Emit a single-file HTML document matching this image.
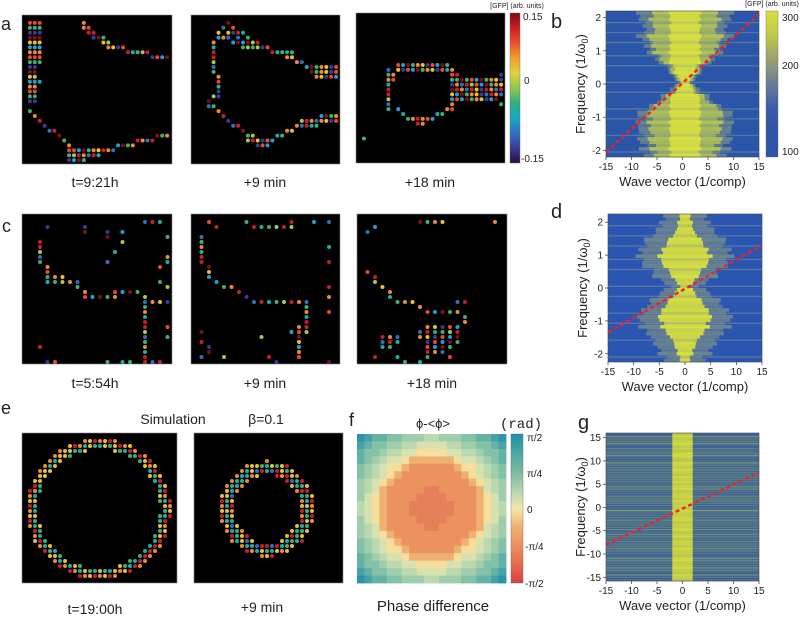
<!DOCTYPE html>
<html><head><meta charset="utf-8"><style>
html,body{margin:0;padding:0;background:#fff;}
svg{display:block;font-family:"Liberation Sans",sans-serif;}
</style></head><body>
<svg id="fig" width="800" height="618" viewBox="0 0 800 618" xmlns="http://www.w3.org/2000/svg"></svg>
<script>
// ---------- data ----------
const bCore=[3,3,3,3,3,3,3,3,3,3,3,3,3,3,3,3,2.5,2,2,1.5,1,0.8,1,1.5,2,2.5,3,3,3,3,3,3,3,3,3,3,3,3,3,3,3,3,3,3];
const bMid=[6,6.5,7,7,6,6,6.5,7,7,7,6.5,6,6,5,5,4,3,3,2.5,2,1.5,1,1.5,2,2.5,3.5,4,5,6,7,7,7.5,7,7,7,7,7,6.5,7,7,6,6.5,6,6];
const bOuter=[9,9.5,9,9,8,8,9,9,8.5,8,8,7.5,7,6,6,5,4,3.5,3,2.5,2,1.5,2,3,3.5,4.5,5,6,7,8,9,9.5,9,9,10,9,9.5,9,9,9,8,8.5,8,8];
const dCore=[1,1,1.5,1.5,1.5,2,2.5,3,3.5,4,4.5,4.5,5,5,4.5,4,3.5,3,2.5,2,1.5,1,1.5,2,2.5,3,3.5,4,4.5,5,5,5,4.5,4.5,4,3.5,3,2.5,2,2,1.5,1.5,1,1];
const dOuter=[4,4,5,5,5.5,6,7,7.5,8,8.5,9,9,9,9,8.5,8,7,6.5,6,5,4,3,4,5,6,6.5,7,8,8.5,9,9,9,9,8.5,8,7.5,7,6.5,6,5.5,5,5,4,4];
const rowTex=[0.9,0.4,0.7,0.2,0.8,0.5,0.3,0.9,0.6,0.2,0.7,0.4,0.9,0.3,0.6,0.8,0.2,0.5,0.9,0.4,0.7,0.3,0.8,0.6,0.2,0.9,0.5,0.4,0.7,0.3,0.8,0.6,0.2,0.9,0.4,0.7,0.5,0.3,0.8,0.6,0.4,0.9,0.2,0.7];
const gStreak=[0.3,0.8,0.2,0.6,0.9,0.3,0.5,0.1,0.7,0.9,0.4,0.2,0.8,0.6,0.3,0.9,0.5,0.2,0.7,0.4,0.8,0.3,0.6,0.9,0.2,0.5,0.7,0.3,0.8,0.4,0.6,0.2,0.9,0.5,0.3,0.7,0.8,0.2,0.6,0.4,0.9,0.3,0.5,0.7,0.2,0.8,0.6,0.3,0.9,0.4,0.5,0.2,0.7,0.8,0.3,0.6,0.9,0.4,0.2,0.7,0.5,0.3];
const kTicks=[-15,-10,-5,0,5,10,15];
const bFTicks=[2,1,0,-1,-2];
const gFTicks=[15,10,5,0,-5,-10,-15];
const bLine=[[-15,-2.05],[15,2.1]];
const dLine=[[-15,-1.35],[15,1.3]];
const gLine=[[-15,-8],[15,7.5]];
const a1Lines=[[[1,1],[1,17]],[[2,1],[2,17]],[[3,1],[3,9]],[[1,19],[9,26],[9,29]],[[10,27],[15,27]],[[10,28],[15,28]],[[9,29],[12,29]],[[16,27],[29,24]],[[12,1],[18,6],[23,7],[29,8]],[[12,2],[17,6]]];
const a1Pts=[[3,13]];
const a2Lines=[[[7,1],[4.6,4],[4,9],[5,15],[3,17],[6,20],[11,24],[15,25],[22,22],[29,21]],[[11,25],[15,26]],[[22,21],[29,20]],[[7,1],[12,5],[20,8],[24,10],[29,10]],[[6,2],[12,6],[20,7]],[[5,3],[11,6]],[[24,11],[29,11]],[[25,12],[29,12]]];
const a2Pts=[[3,18],[5,16]];
const a3Lines=[[[8,10],[18,10]],[[8,11],[18,11]],[[6,11],[6,19]],[[7,12],[7,13]],[[8,19],[12,22],[15,21],[18,19]],[[11,21],[15,21]],[[19,11],[19,19]],[[20,12],[29,18]],[[20,13],[29,13]],[[20,14],[29,14]],[[20,15],[29,15]],[[20,16],[29,16]],[[20,17],[28,17]]];
const a3Pts=[[1,25],[29,12]];
const c1Lines=[[[2,5],[2.5,9.5],[3,11.5],[6,12.5],[8,16],[11.5,15.5],[15,15],[16,17],[15.5,28.5]],[[3,12.5],[6,13]],[[17,17],[19,17]]];
const c1Pts=[[3,2],[8,2],[8,3],[11,3],[11,4],[13,3],[13,5],[12,7],[11,9],[16,1],[17,1],[18,1],[19,4],[19,8],[19,9],[18,10],[18,13],[19,14],[19,17],[19,22],[19,24],[2,26],[3,29],[4,29],[11,29],[13,29],[14,29],[17,29],[18,29],[16,27]];
const c2Lines=[[[1,4],[1.5,9.5],[2.5,13],[4,13.5],[6.6,16],[8.4,17],[15,17],[15,21],[13.6,28]],[[8,2],[12,2]],[[14,22],[14,28]]];
const c2Pts=[[7,1],[13,1],[13,2],[16,1],[18,1],[2,1],[3,2],[18,6],[18,9],[18,14],[18,16],[18,19],[1,23],[1,25],[2,26],[2,27],[1,28],[4,28],[9,24],[10,28],[11,29],[18,29],[13,23]];
const c3Lines=[[[1,11],[3.6,14.5],[5.3,16.5],[7.4,17],[9,18.5],[12.5,18.5]],[[12.5,17],[14,17]],[[8,1],[11,1]],[[1,3],[2,2]],[[9,22],[13,22]],[[8,23],[13,23]],[[8,24],[13,24]],[[9,25],[13,25]],[[9,26],[12,26]],[[9,27],[11,27]],[[3,24],[5,24]],[[3,25],[5,25]],[[3,26],[4,26]]];
const c3Pts=[[18,1],[14,20],[14,21],[2,28],[5,28],[6,29],[8,29],[9,28],[12,28]];
const dotPalette=['#7a1018','#c8202a','#e84a2a','#f08a30','#e8c030','#a8c848','#40b070','#18b0a8','#20a0d8','#3070c0','#3a3a98','#c8202a','#f08a30','#40b070'];
const fThresh=[0.28,0.62,0.7,0.78,0.87,0.96,1.05,1.14,1.23,1.32,1.5];
const fLevels=['#e6805a','#eb925f','#f0b070','#f6df9c','#d8e2b0','#bcd8ae','#a0ceac','#84c2a8','#64b2a6','#46a2a8','#2c94a8','#2592a8'];

// ---------- helpers ----------
const NS='http://www.w3.org/2000/svg';
const svg=document.getElementById('fig');
function mk(tag,attrs,parent){const e=document.createElementNS(NS,tag);for(const k in attrs)e.setAttribute(k,attrs[k]);(parent||svg).appendChild(e);return e;}
function txt(s,x,y,size,anchor,parent,extra){const t=mk('text',Object.assign({x:x,y:y,'font-size':size,'text-anchor':anchor||'start',fill:'#222'},extra||{}),parent);t.textContent=s;return t;}

function dotImage(name,x,y,w,h,cw,ch,lines,pts){
  const g=mk('g',{});
  
  
  const bg=mk('rect',{x:x,y:y,width:w,height:h,fill:'#000',stroke:'#888','stroke-width':0.6},g);
  
  
  const seen=new Set();const cells=[];
  lines.forEach(l=>{for(let s=0;s<l.length-1;s++){const [c1,r1]=l[s],[c2,r2]=l[s+1];const n=Math.max(1,Math.round(Math.max(Math.abs(c2-c1),Math.abs(r2-r1))));for(let i=0;i<=n;i++){const c=Math.round(c1+(c2-c1)*i/n),r=Math.round(r1+(r2-r1)*i/n);const k=c+','+r;if(!seen.has(k)){seen.add(k);cells.push([c,r]);}}}});
  pts.forEach(p=>{const k=p[0]+','+p[1];if(!seen.has(k)){seen.add(k);cells.push(p);}});
  cells.forEach((p,i)=>{const col=dotPalette[(p[0]*37+p[1]*91+i*53)%dotPalette.length];
    const d=mk('circle',{cx:x+3+p[0]*cw,cy:y+3+p[1]*ch,r:2,fill:col},g);
    
    });
}

function ringImage(name,x,y,w,h,cx,cy,rx,ry,layers,cw,ch){
  const g=mk('g',{});
  
  
  mk('rect',{x:x,y:y,width:w,height:h,fill:'#000',stroke:'#888','stroke-width':0.6},g);
  const ringCols=['#c8202a','#f08a30','#e8c030','#40b070','#18b0a8','#3070c0'];
  for(let c=0;c*cw<w-4;c++)for(let r=0;r*ch<h-4;r++){
    const px=x+3+c*cw,py=y+3+r*ch;const dd=Math.sqrt(((px-cx)/rx)**2+((py-cy)/ry)**2);
    for(let L=0;L<layers;L++){const lo=1-(L+1)*0.075,hi=1-L*0.075;
      if(dd>lo&&dd<=hi){const col=ringCols[(L*2+((c+r)%3))%ringCols.length];
        const d=mk('circle',{cx:px,cy:py,r:2,fill:col},g);
        
        }}
  }
}

function spectro(name,x0,y0,w,h,fmin,fmax,fTicks,core,mid,outer,streak,line,center,bg){
  const g=mk('g',{});
  
  
  const X=k=>x0+(k+15)/30*w, Y=f=>y0+(fmax-f)/(fmax-fmin)*h;
  mk('rect',{x:x0,y:y0,width:w,height:h,fill:bg},g);
  const n=(core||streak).length, rh=h/n;
  for(let i=0;i<n;i++){
    const yy=y0+i*rh;
    if(streak){const s=streak[i];
      const gr=mk('rect',{x:x0,y:yy,width:w,height:rh+0.2,fill:'#5a8a80',opacity:0.25+0.35*((i*7)%5)/4},g);
      
      
      const st=mk('rect',{x:x0,y:yy+rh*0.25,width:w,height:rh*0.5,fill:'#c8d040',opacity:s*0.5},g);
      
      
      const c=mk('rect',{x:X(-2),y:yy,width:X(2)-X(-2),height:rh+0.3,fill:'#d4dc40',opacity:0.8+0.2*s},g);
      
      
    } else {
      const t=rowTex[i%rowTex.length];
      const ow=outer[i]*(0.8+0.3*t);
      const o=mk('rect',{x:X(center-ow),y:yy,width:X(ow)-X(-ow),height:rh+0.3,fill:'#8a9a80',opacity:0.35+0.35*t},g);
      
      
      if(mid){const mw=mid[i]*(0.85+0.25*t);const m=mk('rect',{x:X(center-mw),y:yy,width:X(mw)-X(-mw),height:rh+0.3,fill:'#b8c850',opacity:0.5+0.45*t},g);
        
        }
      const cw=core[i]*(0.85+0.25*t);
      const c=mk('rect',{x:X(center-cw),y:yy,width:X(cw)-X(-cw),height:rh+0.3,fill:'#d8e040',opacity:0.8+0.2*t},g);
      
      
      if(t<0.35){const s=mk('rect',{x:x0,y:yy+rh*0.3,width:w,height:rh*0.4,fill:'#9aa890',opacity:0.4},g);
        
        }
    }
  }
  const ln=mk('line',{x1:X(line[0][0]),y1:Y(line[0][1]),x2:X(line[1][0]),y2:Y(line[1][1]),stroke:'#ee2222','stroke-width':2.4,'stroke-dasharray':'4,3'},g);
  
  
  mk('rect',{x:x0,y:y0,width:w,height:h,fill:'none',stroke:'#444','stroke-width':0.6},g);
  kTicks.forEach(k=>{mk('line',{x1:X(k),y1:y0+h,x2:X(k),y2:y0+h+3,stroke:'#333','stroke-width':0.7},g);
    const t=txt(String(k),X(k),y0+h+13,10,'middle',g);});
  fTicks.forEach(f=>{mk('line',{x1:x0-3,y1:Y(f),x2:x0,y2:Y(f),stroke:'#333','stroke-width':0.7},g);
    const t=txt(String(f),x0-5,Y(f)+3.5,10,'end',g);});
  const xt=txt('Wave vector (1/comp)',x0+w/2,y0+h+29,13,'middle',g);
  
  
  const yt=mk('text',{x:0,y:0,'font-size':13,'text-anchor':'middle',fill:'#222',transform:`translate(${x0-21},${y0+h/2}) rotate(-90)`},g);
  
  
  yt.innerHTML='Frequency (1/ω<tspan font-size="9" dy="3">0</tspan><tspan dy="-3">)</tspan>';
}

function gradBar(name,id,x,y,w,h,stops){
  const defs=mk('defs',{});const lg=mk('linearGradient',{id:id,x1:0,y1:0,x2:0,y2:1},defs);
  stops.forEach((c,i)=>mk('stop',{offset:i/(stops.length-1),'stop-color':c},lg));
  const r=mk('rect',{x:x,y:y,width:w,height:h,fill:`url(#${id})`,stroke:'#666','stroke-width':0.4});
  
  
}
function label(s,x,y,size,anchor,name){const t=txt(s,x,y,size,anchor);return t;}

// ---------- panel a ----------
label('a',1,30,18,'start','panel-letter-a');
dotImage('image-a-t0',22,15,150,149,4.9,4.9,a1Lines,a1Pts);
dotImage('image-a-9min',191,15,149,149,4.9,4.9,a2Lines,a2Pts);
dotImage('image-a-18min',356,13,149,150,4.9,4.9,a3Lines,a3Pts);
gradBar('colorbar-a','jetg',510,13,10,150,['#7a0a10','#c81e24','#e8502a','#f0a030','#e0d040','#90c850','#30b080','#18a8c0','#3070c0','#3a3a98','#2a0a40']);
label('[GFP] (arb. units)',517,8,7,'middle','colorbar-a-title');
label('0.15',523,20,10,'start','colorbar-a-tick-max');
label('0',524,84,10,'start','colorbar-a-tick-zero');
label('-0.15',521,162,10,'start','colorbar-a-tick-min');
label('t=9:21h',95,187,14,'middle','time-label-a1');
label('+9 min',265,187,14,'middle','time-label-a2');
label('+18 min',430,187,14,'middle','time-label-a3');

// ---------- panel b ----------
label('b',551,28,20,'start','panel-letter-b');
spectro('spectrogram-b',606,11,153,146,-2.2,2.2,bFTicks,bCore,bMid,bOuter,null,bLine,0.5,'#2a55a8');
gradBar('colorbar-b','ylb',766,11,12,146,['#d8e040','#c0c848','#9aa070','#6a7c9a','#3a5ca8','#2a55a8','#2a55a8']);
label('[GFP] (arb. units)',772,6,7,'middle','colorbar-b-title');
label('300',782,21,10,'start','colorbar-b-tick-300');
label('200',782,69,10,'start','colorbar-b-tick-200');
label('100',782,155,10,'start','colorbar-b-tick-100');

// ---------- panel c ----------
label('c',2,232,18,'start','panel-letter-c');
dotImage('image-c-t0',22,214,150,150,7.5,5,c1Lines,c1Pts);
dotImage('image-c-9min',191,214,149,150,7.5,5,c2Lines,c2Pts);
dotImage('image-c-18min',357,214,150,150,7.5,5,c3Lines,c3Pts);
label('t=5:54h',95,388,14,'middle','time-label-c1');
label('+9 min',265,388,14,'middle','time-label-c2');
label('+18 min',432,388,14,'middle','time-label-c3');

// ---------- panel d ----------
label('d',551,218,20,'start','panel-letter-d');
spectro('spectrogram-d',608,214,154,148,-2.25,2.25,bFTicks,dCore,null,dOuter,null,dLine,0,'#2a55b0');

// ---------- panel e ----------
label('e',1,414,18,'start','panel-letter-e');
label('Simulation',173,424,14,'middle','simulation-label');
label('β=0.1',266,424,14,'middle','beta-label');
ringImage('image-e-t0',22,433,155,150,99,509,72,70,2,5,5);
ringImage('image-e-9min',194,433,149,150,267,509,47,48,4,5,5);
label('t=19:00h',95,614,14,'middle','time-label-e1');
label('+9 min',262,612,14,'middle','time-label-e2');

// ---------- panel f ----------
label('f',349,426,18,'start','panel-letter-f');
label('ϕ-<ϕ>',433,428,13,'middle','phase-title');
label('(rad)',521,428,14,'middle','unit-label').setAttribute('font-family','"Liberation Mono",monospace');
(function(){const g=mk('g',{});
  const x0=357,y0=434,W=149,H=149,N=20,cw=W/N,ch=H/N;
  for(let i=0;i<N;i++)for(let j=0;j<N;j++){const dx=(i+0.5-N/2)/(N/2),dy=(j+0.5-N/2)/(N/2);const d=Math.sqrt(dx*dx+dy*dy);
    let idx=0;while(idx<fThresh.length&&d>fThresh[idx])idx++;
    const r=mk('rect',{x:x0+i*cw,y:y0+j*ch,width:cw+0.4,height:ch+0.4,fill:fLevels[idx]},g);
    
    }
})();
gradBar('colorbar-f','phg',511,434,12,149,['#1e90a8','#4aa8a2','#7ab8a0','#b0d4b0','#f4e8a8','#f0b070','#ec9060','#e46a50','#d84040']);
label('π/2',527,441,10,'start','colorbar-f-tick-pi2');
label('π/4',527,477,10,'start','colorbar-f-tick-pi4');
label('0',527,513,10,'start','colorbar-f-tick-0');
label('-π/4',525,550,10,'start','colorbar-f-tick-mpi4');
label('-π/2',525,587,10,'start','colorbar-f-tick-mpi2');
label('Phase difference',433,611,15,'middle','phase-difference-label');

// ---------- panel g ----------
label('g',578,429,20,'start','panel-letter-g');
spectro('spectrogram-g',606,433,153,148,-15.8,16,gFTicks,null,null,null,gStreak,gLine,0,'#2a48a8');
</script>
</body></html>
